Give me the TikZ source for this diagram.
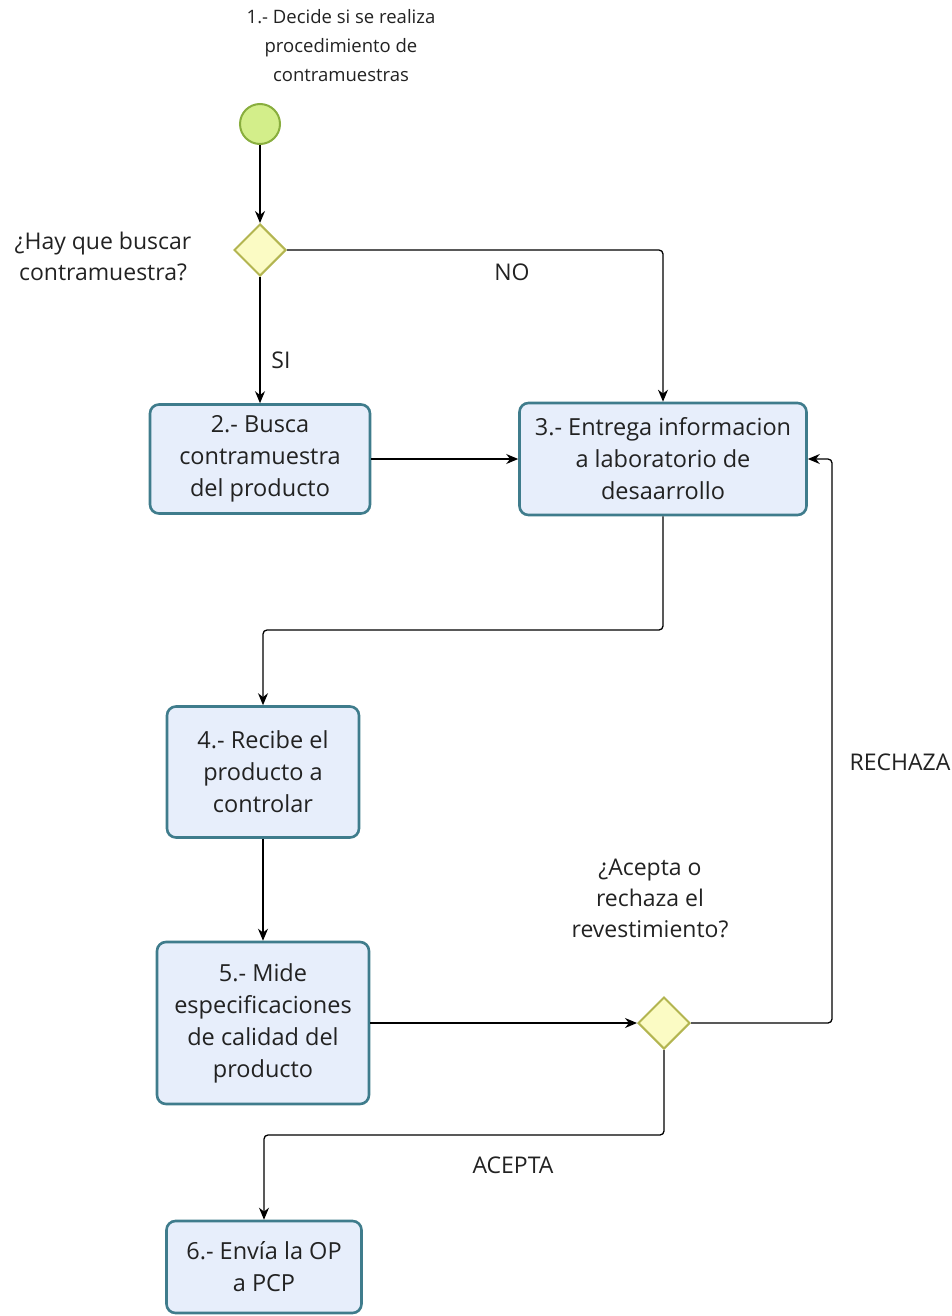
\documentclass[tikz,border=0pt]{standalone}
\usepackage{fontspec}
\setmainfont{Open Sans}
\usetikzlibrary{shapes.geometric,arrows.meta}
\definecolor{boxfill}{HTML}{E7EEFB}
\definecolor{boxline}{HTML}{3F7C8C}
\definecolor{startfill}{HTML}{D3EE8A}
\definecolor{startline}{HTML}{89AE3E}
\definecolor{gatefill}{HTML}{FBFBC4}
\definecolor{gateline}{HTML}{B3B550}
\definecolor{ink}{HTML}{222222}
\tikzset{
  task/.style={draw=boxline, line width=2.6pt, fill=boxfill, rounded corners=9pt,
    align=center, inner sep=0pt, text=ink, font=\fontsize{23.5}{32}\selectfont},
  gate/.style={diamond, aspect=1, draw=gateline, line width=2pt, fill=gatefill,
    minimum size=52pt, inner sep=0pt},
  startev/.style={circle, draw=startline, line width=2pt, fill=startfill,
    minimum size=40pt, inner sep=0pt},
  flow/.style={draw=black, line width=1.3pt, rounded corners=4pt,
    -{Stealth[length=12pt,width=10pt]}},
  lbl/.style={inner sep=0pt, align=center, text=ink, font=\fontsize{23}{31}\selectfont},
  small/.style={inner sep=0pt, align=center, text=ink, font=\fontsize{18.5}{29}\selectfont}
}
\begin{document}
\begin{tikzpicture}[x=1pt, y=-1pt]
\useasboundingbox (0,0) rectangle (952,1316);

% events and gateways
\node[startev] (start) at (260,124) {};
\node[gate] (g1) at (260,250) {};
\node[gate] (g2) at (664,1023) {};

% tasks
\node[task, minimum width=220pt, minimum height=109pt] (t2) at (260,459)
  {2.- Busca\\contramuestra\\del producto};
\node[task, minimum width=287pt, minimum height=112pt] (t3) at (663,459)
  {3.- Entrega informacion\\a laboratorio de\\desaarrollo};
\node[task, minimum width=192pt, minimum height=131pt] (t4) at (263,772)
  {4.- Recibe el\\producto a\\controlar};
\node[task, minimum width=212pt, minimum height=162pt] (t5) at (263,1023)
  {5.- Mide\\especificaciones\\de calidad del\\producto};
\node[task, minimum width=195pt, minimum height=92pt] (t6) at (264,1267)
  {6.- Envía la OP\\a PCP};

% texts
\node[small] (title) at (341,46) {1.- Decide si se realiza\\procedimiento de\\contramuestras};
\node[lbl] (q1) at (103,256) {¿Hay que buscar\\contramuestra?};
\node[lbl] (q2) at (650,898) {¿Acepta o\\rechaza el\\revestimiento?};
\node[lbl] (no) at (512,272) {NO};
\node[lbl] (si) at (281,360) {SI};
\node[lbl] (rechaza) at (900,762) {RECHAZA};
\node[lbl] (acepta) at (513,1165) {ACEPTA};

% helper points for bends
\coordinate (c1) at (663,250);
\coordinate (c2) at (663,630);
\coordinate (c3) at (263,630);
\coordinate (c4) at (832,1023);
\coordinate (c5) at (832,459);
\coordinate (c6) at (664,1135);
\coordinate (c7) at (264,1135);

% sequence flows
\draw[flow] (start) -- (g1);
\draw[flow] (g1.south) -- (t2.north);
\draw[flow] (g1.east) -- (c1) -- (t3.north);
\draw[flow] (t2.east) -- (t3.west);
\draw[flow] (t3.south) -- (c2) -- (c3) -- (t4.north);
\draw[flow] (t4.south) -- (t5.north);
\draw[flow] (t5.east) -- (g2.west);
\draw[flow] (g2.east) -- (c4) -- (c5) -- (t3.east);
\draw[flow] (g2.south) -- (c6) -- (c7) -- (t6.north);
\end{tikzpicture}
\end{document}
